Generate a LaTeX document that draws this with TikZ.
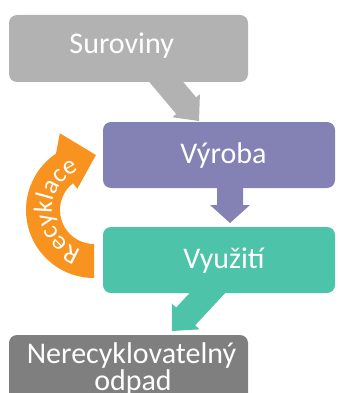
\documentclass[tikz,border=0pt]{standalone}
\usepackage{fontspec}
\setmainfont{Carlito}
\usetikzlibrary{decorations.text}
\definecolor{boxgray}{HTML}{B2B2B2}
\definecolor{purp}{HTML}{8481B4}
\definecolor{tealc}{HTML}{4DC3A9}
\definecolor{dgray}{HTML}{7F7F7F}
\definecolor{orng}{HTML}{F7931E}
\newcommand\recfont{\fontsize{26}{26}\selectfont\color{white}}
\begin{document}
\begin{tikzpicture}[x=1pt,y=1pt,
  box/.style={rectangle, draw=none, rounded corners=8pt, inner sep=0pt},
  lbl/.style={text=white, font=\fontsize{30}{30}\selectfont, anchor=base, inner sep=0pt}]
\useasboundingbox (0,0) rectangle (337,-393);
\clip (0,0) rectangle (337,-393);
% arrows (under the boxes)
\begin{scope}[shift={(199,-121)}, rotate=-50]
  \fill[boxgray] (-70,13) -- (-20,13) -- (-20,18) -- (0,0) -- (-20,-18) -- (-20,-13) -- (-70,-13) -- cycle;
\end{scope}
\begin{scope}[shift={(230,-223)}, rotate=-90]
  \fill[purp] (-50,13) -- (-18,13) -- (-18,20) -- (0,0) -- (-18,-20) -- (-18,-13) -- (-50,-13) -- cycle;
\end{scope}
\begin{scope}[shift={(172,-331)}, rotate=-133]
  \fill[tealc] (-70,13) -- (-20,13) -- (-20,19) -- (0,0) -- (-20,-19) -- (-20,-13) -- (-70,-13) -- cycle;
\end{scope}
% boxes
\node[box, fill=boxgray, minimum width=239pt, minimum height=67pt] (sur) at (128.5,-48.5) {};
\node[box, fill=purp, minimum width=232pt, minimum height=66pt] (vyr) at (219,-155) {};
\node[box, fill=tealc, minimum width=232pt, minimum height=66pt] (vyu) at (219,-260) {};
\node[box, fill=dgray, minimum width=239pt, minimum height=80pt] (odp) at (128.5,-375) {};
% texts
\node[lbl] (tsur) at (121.7,-53.3) {Suroviny};
\node[lbl] (tvyr) at (223.5,-163) {Výroba};
\node[lbl] (tvyu) at (224,-268) {Využití};
\node[lbl] (todp1) at (131.5,-363) {Nerecyklovatelný};
\node[lbl] (todp2) at (133,-390) {odpad};
% recycling arrow
\begin{scope}[shift={(94,-210)}]
  \fill[orng] (270:68) arc[start angle=270, end angle=124, radius=68]
    -- (114:84) -- (88:55) -- (128:27) -- (128:34)
    arc[start angle=128, end angle=270, radius=34] -- cycle;
  \path[decorate, decoration={text along path, text={|\recfont|Recyklace}, text color=white, text align=center}]
    (270:42) arc[start angle=270, end angle=93, radius=42];
\end{scope}
\end{tikzpicture}
\end{document}
